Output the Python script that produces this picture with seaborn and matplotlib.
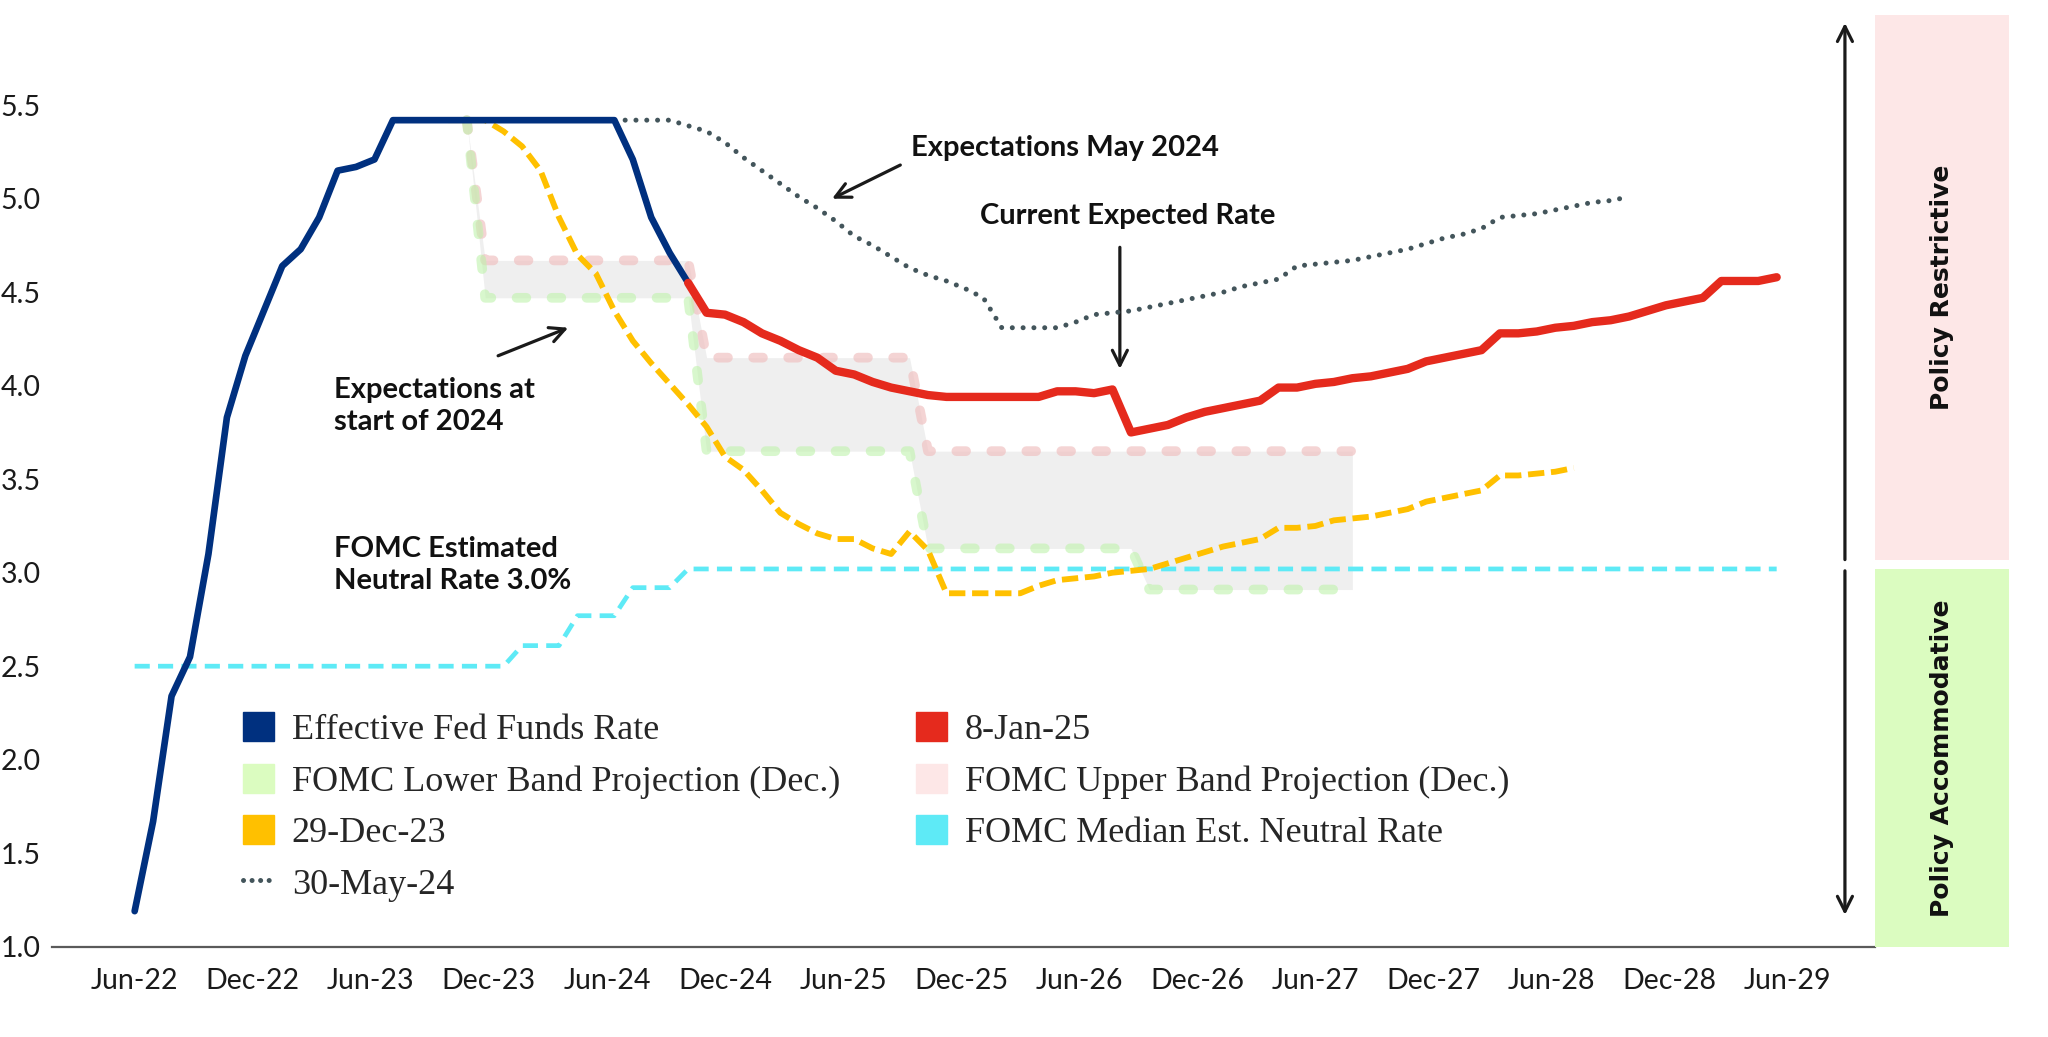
import numpy as np
import pandas as pd
import matplotlib
matplotlib.use("Agg")
import matplotlib.pyplot as plt
import seaborn as sns
from matplotlib.patches import Patch
from matplotlib.lines import Line2D

# x = plotted month index, 0 = Jun-22 (the source spaces its axis labels 6.4 points apart)
tick_labels = ["Jun-22", "Dec-22", "Jun-23", "Dec-23", "Jun-24", "Dec-24", "Jun-25", "Dec-25",
               "Jun-26", "Dec-26", "Jun-27", "Dec-27", "Jun-28", "Dec-28", "Jun-29"]
tick_every = 6.4

# Effective Fed Funds Rate
ffr_start = 0
ffr = [1.19, 1.67, 2.34, 2.55, 3.10, 3.83, 4.16, 4.40, 4.64, 4.73, 4.90, 5.15, 5.17, 5.21,
       5.42, 5.42, 5.42, 5.42, 5.42, 5.42, 5.42, 5.42, 5.42, 5.42, 5.42, 5.42, 5.42,
       5.21, 4.90, 4.71, 4.55]

# market expectations 8-Jan-25
jan25_start = 30
jan25 = [4.55, 4.39, 4.38, 4.34, 4.28, 4.24, 4.19, 4.15, 4.08, 4.06,
         4.02, 3.99, 3.97, 3.95, 3.94, 3.94, 3.94, 3.94, 3.94, 3.94,
         3.97, 3.97, 3.96, 3.98, 3.75, 3.77, 3.79, 3.83, 3.86, 3.88,
         3.90, 3.92, 3.99, 3.99, 4.01, 4.02, 4.04, 4.05, 4.07, 4.09,
         4.13, 4.15, 4.17, 4.19, 4.28, 4.28, 4.29, 4.31, 4.32, 4.34,
         4.35, 4.37, 4.40, 4.43, 4.45, 4.47, 4.56, 4.56, 4.56, 4.58]

# market expectations 29-Dec-23
dec23_start = 17
dec23 = [5.42, 5.42, 5.42, 5.36, 5.28, 5.15, 4.90, 4.70, 4.60, 4.40,
         4.24, 4.12, 4.01, 3.90, 3.78, 3.62, 3.55, 3.44, 3.32, 3.26,
         3.21, 3.18, 3.18, 3.13, 3.10, 3.22, 3.12, 2.89, 2.89, 2.89,
         2.89, 2.89, 2.93, 2.96, 2.97, 2.98, 3.00, 3.01, 3.02, 3.05,
         3.08, 3.11, 3.14, 3.16, 3.18, 3.24, 3.24, 3.25, 3.28, 3.29,
         3.30, 3.32, 3.34, 3.38, 3.40, 3.42, 3.44, 3.52, 3.52, 3.53,
         3.54, 3.56]

# market expectations 30-May-24
may24_start = 26
may24 = [5.42, 5.42, 5.42, 5.42, 5.39, 5.36, 5.30, 5.22, 5.15, 5.08,
         5.01, 4.95, 4.88, 4.80, 4.75, 4.69, 4.63, 4.59, 4.56, 4.52,
         4.47, 4.31, 4.31, 4.31, 4.31, 4.34, 4.38, 4.39, 4.40, 4.42,
         4.44, 4.46, 4.48, 4.50, 4.53, 4.55, 4.57, 4.64, 4.65, 4.66,
         4.67, 4.69, 4.71, 4.73, 4.76, 4.79, 4.81, 4.84, 4.90, 4.91,
         4.92, 4.94, 4.96, 4.98, 4.99, 5.01]

# FOMC median estimated neutral rate
neutral_start = 0
neutral = [2.50, 2.50, 2.50, 2.50, 2.50, 2.50, 2.50, 2.50, 2.50, 2.50,
           2.50, 2.50, 2.50, 2.50, 2.50, 2.50, 2.50, 2.50, 2.50, 2.50,
           2.50, 2.61, 2.61, 2.61, 2.77, 2.77, 2.77, 2.92, 2.92, 2.92,
           3.02, 3.02, 3.02, 3.02, 3.02, 3.02, 3.02, 3.02, 3.02, 3.02,
           3.02, 3.02, 3.02, 3.02, 3.02, 3.02, 3.02, 3.02, 3.02, 3.02,
           3.02, 3.02, 3.02, 3.02, 3.02, 3.02, 3.02, 3.02, 3.02, 3.02,
           3.02, 3.02, 3.02, 3.02, 3.02, 3.02, 3.02, 3.02, 3.02, 3.02,
           3.02, 3.02, 3.02, 3.02, 3.02, 3.02, 3.02, 3.02, 3.02, 3.02,
           3.02, 3.02, 3.02, 3.02, 3.02, 3.02, 3.02, 3.02, 3.02, 3.02]

# FOMC Dec. projection band
band_start = 18
band_upper = [5.42,
              4.67, 4.67, 4.67, 4.67, 4.67, 4.67, 4.67, 4.67, 4.67, 4.67, 4.67, 4.67,
              4.15, 4.15, 4.15, 4.15, 4.15, 4.15, 4.15, 4.15, 4.15, 4.15, 4.15, 4.15,
              3.65, 3.65, 3.65, 3.65, 3.65, 3.65, 3.65, 3.65, 3.65, 3.65, 3.65, 3.65,
              3.65, 3.65, 3.65, 3.65, 3.65, 3.65, 3.65, 3.65, 3.65, 3.65, 3.65, 3.65]
band_lower = [5.42,
              4.47, 4.47, 4.47, 4.47, 4.47, 4.47, 4.47, 4.47, 4.47, 4.47, 4.47, 4.47,
              3.65, 3.65, 3.65, 3.65, 3.65, 3.65, 3.65, 3.65, 3.65, 3.65, 3.65, 3.65,
              3.13, 3.13, 3.13, 3.13, 3.13, 3.13, 3.13, 3.13, 3.13, 3.13, 3.13, 3.13,
              2.91, 2.91, 2.91, 2.91, 2.91, 2.91, 2.91, 2.91, 2.91, 2.91, 2.91, 2.91]

NAVY = "#00307f"
RED = "#e52a1d"
AMBER = "#ffc000"
CYAN = "#5eeaf6"
DOTS = "#43555b"
PINK_LINE = "#f0c2c2"
GREEN_LINE = "#bff3ac"
PINK = "#fde7e7"
GREEN = "#dbfcc0"

sns.set_theme(style="white")
plt.rcParams["font.family"] = ["Lato", "DejaVu Sans"]

fig = plt.figure(figsize=(20.48, 10.37), dpi=100)
ax = fig.add_axes([0.02539, 0.08708, 0.89014, 0.90164])


def frame(start, values):
    return pd.DataFrame({"month": np.arange(start, start + len(values)), "rate": values})


def draw(start, values, width, **kw):
    sns.lineplot(data=frame(start, values), x="month", y="rate", ax=ax, legend=False, **kw)
    line = ax.lines[-1]
    line.set_linewidth(width)
    return line


band = frame(band_start, band_upper)
band["lower"] = band_lower
ax.fill_between(band["month"], band["lower"], band["rate"], color="#efefef", lw=0, zorder=1)

for vals, col, a in [(band_upper, PINK_LINE, 0.7), (band_lower, GREEN_LINE, 0.6)]:
    ln = draw(band_start, vals, 7.0, color=col, alpha=a, zorder=2)
    ln.set_dashes((1.0, 2.6))
    ln.set_dash_capstyle("round")

ln = draw(neutral_start, neutral, 3.4, color=CYAN, zorder=3)
ln.set_dashes((3.2, 1.75))

ln = draw(dec23_start, dec23, 4.2, color=AMBER, zorder=4)
ln.set_dashes((2.8, 1.15))

ln = draw(may24_start, may24, 3.6, color=DOTS, zorder=4)
ln.set_dashes((0.01, 2.15))
ln.set_dash_capstyle("round")

ln = draw(ffr_start, ffr, 4.8, color=NAVY, zorder=5)
ln.set_solid_capstyle("round")
ln = draw(jan25_start, jan25, 6.0, color=RED, zorder=6)
ln.set_solid_capstyle("round")

# axes styling
ax.set_xlim(-4.48, 94.33)
ax.set_ylim(1, 6)
ax.set_xlabel("")
ax.set_ylabel("")
ax.set_xticks(np.arange(len(tick_labels)) * tick_every)
ax.set_xticklabels(tick_labels)
ax.set_yticks(np.arange(1.0, 5.51, 0.5))
ax.set_yticklabels([f"{v:.1f}" for v in np.arange(1.0, 5.51, 0.5)])
for s in ["top", "right", "left"]:
    ax.spines[s].set_visible(False)
ax.spines["bottom"].set_color("#5a5a5a")
ax.spines["bottom"].set_linewidth(1.6)
ax.tick_params(axis="x", direction="in", length=12.5, width=1, color="#5a5a5a",
               pad=15, labelsize=20.5, labelcolor="#1a1a1a")
ax.tick_params(axis="y", length=0, pad=8, labelsize=20.5, labelcolor="#1a1a1a")
ax.grid(False)

# annotations
txt = dict(fontsize=21, weight="bold", color="#111111", ha="left", va="center", linespacing=1.3)
arr = dict(arrowstyle="->", color="#1a1a1a", lw=2.3, mutation_scale=27, shrinkA=0, shrinkB=0)
ax.text(42.1, 5.27, "Expectations May 2024", **txt)
ax.annotate("", xy=(37.8, 5.0), xytext=(41.5, 5.18), arrowprops=arr)
ax.text(45.8, 4.91, "Current Expected Rate", **txt)
ax.annotate("", xy=(53.4, 4.09), xytext=(53.4, 4.74), arrowprops=arr)
ax.text(10.8, 3.89, "Expectations at\nstart of 2024", **txt)
ax.annotate("", xy=(23.5, 4.31), xytext=(19.7, 4.16), arrowprops=arr)
ax.text(10.8, 3.04, "FOMC Estimated\nNeutral Rate 3.0%", **txt)

# restrictive / accommodative arrows
ax.annotate("", xy=(92.7, 5.94), xytext=(92.7, 3.07), arrowprops=arr, annotation_clip=False)
ax.annotate("", xy=(92.7, 1.17), xytext=(92.7, 3.01), arrowprops=arr, annotation_clip=False)

# legend
handles = [Patch(color=NAVY), Patch(color=GREEN), Patch(color=AMBER),
           Line2D([], [], color=DOTS, lw=3.6, dashes=(0.01, 1.7), dash_capstyle="round"),
           Patch(color=RED), Patch(color=PINK), Patch(color=CYAN)]
labels = ["Effective Fed Funds Rate", "FOMC Lower Band Projection (Dec.)", "29-Dec-23",
          "30-May-24", "8-Jan-25", "FOMC Upper Band Projection (Dec.)",
          "FOMC Median Est. Neutral Rate"]
fig.legend(handles, labels, loc="upper left", bbox_to_anchor=(0.1187, 0.313),
           bbox_transform=fig.transFigure, ncol=2, frameon=False, borderpad=0,
           borderaxespad=0, handlelength=0.85, handleheight=0.85, handletextpad=0.5,
           labelspacing=0.46, columnspacing=2.1,
           prop=dict(family="Liberation Serif", size=26))

# right panel
ax2 = fig.add_axes([0.91553, 0.08708, 0.06567, 0.90164])
ax2.set_xlim(0, 1)
ax2.set_ylim(1, 6)
ax2.axis("off")
ax2.axhspan(3.07, 5.98, color=PINK, lw=0)
ax2.axhspan(1.0, 3.02, color=GREEN, lw=0)
side = dict(rotation=90, ha="center", va="center", fontsize=18, weight="bold",
            family=["DejaVu Sans"], color="#111111")
ax2.text(0.5, 4.525, "Policy Restrictive", **side)
ax2.text(0.5, 2.01, "Policy Accommodative", **side)

fig.savefig("out.png", dpi=100)
